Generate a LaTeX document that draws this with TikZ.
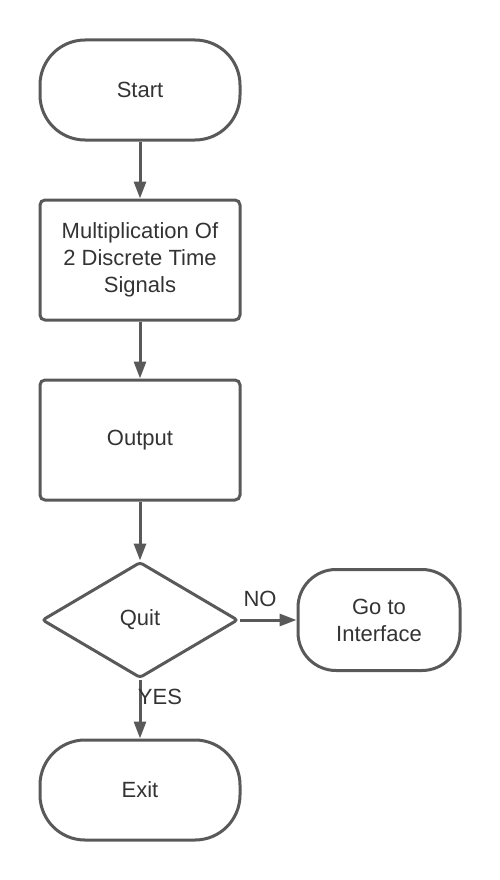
\documentclass[tikz,border=0pt]{standalone}
\usepackage{fontspec}
\setmainfont{Liberation Sans}
\usetikzlibrary{shapes.geometric,arrows.meta}
\definecolor{linegray}{HTML}{595959}
\definecolor{textgray}{HTML}{333333}

\begin{document}
\begin{tikzpicture}
  [x=1pt,y=-1pt,line width=3pt,
   every node/.style={text=textgray,font=\fontsize{22}{27}\selectfont,align=center},
   terminal/.style={draw=linegray,rounded corners=45pt,minimum width=200pt,minimum height=100pt},
   process/.style={draw=linegray,rounded corners=5pt,minimum width=200pt,minimum height=120pt},
   decision/.style={draw=linegray,diamond,rounded corners=3pt,minimum width=196pt,minimum height=116pt,inner sep=0pt},
   flow/.style={draw=linegray,-{Triangle[length=17pt,width=12pt]}}]
  \useasboundingbox (0,0) rectangle (500,880);
  \node[terminal] (start) at (140,90) {Start};
  \node[process] (mult) at (140,260) {Multiplication Of\\2 Discrete Time\\Signals};
  \node[process] (out) at (140,440) {Output};
  \node[decision] (quit) at (140,620) {Quit};
  \node[terminal,minimum width=162pt,minimum height=101pt,rounded corners=38pt] (iface) at (379,620) {Go to\\Interface};
  \node[terminal] (exit) at (140,790) {Exit};
  \foreach \from/\to in {start/mult,mult/out,out/quit,quit/exit,quit/iface}
    \draw [flow] (\from) -- (\to);
  \node (no) at (260,599) {NO};
  \node (yes) at (160,697) {YES};
\end{tikzpicture}
\end{document}
